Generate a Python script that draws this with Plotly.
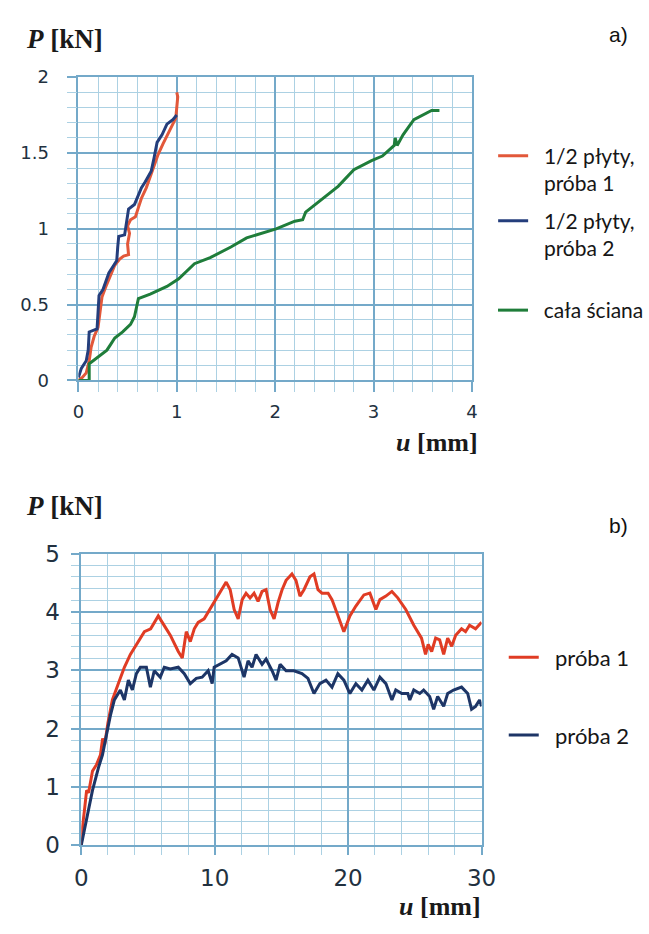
import plotly.graph_objects as go

# ---------------- data: chart a) ----------------
a_red_u = [0, 0.04, 0.08, 0.11, 0.13, 0.16, 0.2, 0.22, 0.24, 0.28, 0.33, 0.37, 0.42, 0.46, 0.51, 0.5, 0.52, 0.5, 0.53,
           0.58, 0.61, 0.64, 0.69, 0.73, 0.77, 0.81, 0.86, 0.9, 0.95, 0.99, 1.0, 1.01, 1.0]
a_red_p = [0, 0.02, 0.05, 0.13, 0.22, 0.29, 0.35, 0.45, 0.55, 0.62, 0.7, 0.76, 0.8, 0.82, 0.83, 0.9, 0.97, 1.02, 1.06,
           1.08, 1.14, 1.2, 1.27, 1.34, 1.42, 1.49, 1.56, 1.61, 1.67, 1.73, 1.8, 1.87, 1.9]

a_blue_u = [0, 0.03, 0.08, 0.1, 0.11, 0.15, 0.19, 0.2, 0.21, 0.25, 0.31, 0.36, 0.39, 0.4, 0.41, 0.47, 0.49, 0.51, 0.57,
            0.64, 0.68, 0.74, 0.77, 0.8, 0.85, 0.9, 0.96, 1.0]
a_blue_p = [0.02, 0.08, 0.13, 0.2, 0.32, 0.33, 0.34, 0.45, 0.56, 0.6, 0.71, 0.76, 0.79, 0.88, 0.95, 0.96, 1.05, 1.13, 1.16,
            1.27, 1.31, 1.38, 1.47, 1.57, 1.62, 1.69, 1.72, 1.75]

a_green_u = [0, 0.05, 0.11, 0.11, 0.15, 0.22, 0.29, 0.33, 0.37, 0.45, 0.53, 0.57, 0.6, 0.61, 0.73, 0.9, 1.02, 1.1, 1.18,
             1.34, 1.55, 1.71, 2.01, 2.2, 2.28, 2.31, 2.47, 2.64, 2.8, 2.98, 3.09, 3.21, 3.22, 3.24, 3.3, 3.41, 3.59, 3.67]
a_green_p = [0, 0.0, 0.0, 0.11, 0.13, 0.16, 0.2, 0.24, 0.28, 0.32, 0.37, 0.42, 0.5, 0.54, 0.57, 0.62, 0.67, 0.72, 0.77,
             0.81, 0.88, 0.94, 1.0, 1.05, 1.06, 1.11, 1.19, 1.28, 1.39, 1.45, 1.48, 1.55, 1.6, 1.55, 1.62, 1.72, 1.78, 1.78]

# ---------------- data: chart b) ----------------
b_red_u = [0, 0.1, 0.24, 0.4, 0.55, 0.84, 1.14, 1.44, 1.6, 1.75, 2.0, 2.33, 2.78, 3.23, 3.68, 4.28, 4.73, 5.2, 5.5, 5.77,
           6.07, 6.67, 7.27, 7.57, 7.87, 8.17, 8.47, 8.76, 9.21, 9.51, 9.96, 10.4, 10.86, 11.16, 11.46, 11.76, 12.06,
           12.35, 12.65, 12.95, 13.25, 13.55, 13.85, 14.15, 14.45, 14.75, 15.05, 15.35, 15.79, 16.09, 16.39, 16.69,
           17.14, 17.44, 17.74, 18.04, 18.5, 18.79, 19.23, 19.68, 20.13, 20.58, 21.18, 21.63, 22.08, 22.38, 22.83,
           23.28, 23.72, 24.32, 24.92, 25.5, 25.8, 26.0, 26.26, 26.56, 26.86, 27.16, 27.46, 27.76, 28.06, 28.5, 28.8,
           29.1, 29.55, 30.0]
b_red_p = [0, 0.33, 0.6, 0.94, 0.9, 1.27, 1.38, 1.55, 1.83, 1.72, 2.1, 2.49, 2.77, 3.05, 3.27, 3.49, 3.66, 3.71, 3.82, 3.93,
           3.82, 3.6, 3.32, 3.21, 3.66, 3.49, 3.71, 3.82, 3.88, 3.99, 4.16, 4.32, 4.51, 4.38, 4.04, 3.88, 4.21,
           4.32, 4.24, 4.32, 4.18, 4.35, 4.38, 4.04, 3.88, 4.16, 4.38, 4.54, 4.65, 4.54, 4.27, 4.38,
           4.6, 4.65, 4.38, 4.32, 4.32, 4.21, 3.93, 3.66, 3.93, 4.1, 4.29, 4.32, 4.04, 4.21, 4.27,
           4.35, 4.24, 4.04, 3.77, 3.55, 3.27, 3.44, 3.32, 3.55, 3.52, 3.27, 3.55, 3.41, 3.6, 3.71, 3.66,
           3.77, 3.71, 3.82]

b_blue_u = [0, 0.4, 0.84, 1.29, 1.59, 1.88, 2.18, 2.48, 2.93, 3.23, 3.53, 3.83, 4.13, 4.43, 4.88, 5.18, 5.47, 5.92, 6.22,
            6.67, 7.27, 7.72, 8.17, 8.62, 9.06, 9.51, 9.81, 9.96, 10.4, 10.86, 11.3, 11.76, 12.2, 12.5, 12.8, 13.1,
            13.55, 13.85, 14.3, 14.6, 14.9, 15.35, 15.94, 16.54, 16.99, 17.44, 17.88, 18.34, 18.79, 19.23, 19.68,
            20.13, 20.58, 21.03, 21.48, 21.93, 22.38, 22.83, 23.28, 23.57, 24.02, 24.47, 24.62, 24.92, 25.37, 25.66,
            26.11, 26.41, 26.71, 27.16, 27.46, 27.9, 28.5, 28.96, 29.25, 29.55, 29.85, 30.0]
b_blue_p = [0, 0.44, 0.94, 1.33, 1.55, 1.88, 2.22, 2.49, 2.66, 2.49, 2.83, 2.66, 2.94, 3.05, 3.05, 2.71, 2.99, 2.88, 3.05,
            3.02, 3.05, 2.94, 2.77, 2.86, 2.88, 2.99, 2.77, 3.05, 3.1, 3.16, 3.27, 3.21, 2.88, 3.16, 3.05, 3.27,
            3.1, 3.19, 2.99, 2.83, 3.1, 2.99, 2.99, 2.94, 2.86, 2.6, 2.77, 2.83, 2.71, 2.94, 2.83,
            2.6, 2.77, 2.66, 2.83, 2.66, 2.88, 2.77, 2.49, 2.66, 2.6, 2.6, 2.49, 2.66, 2.6, 2.66,
            2.55, 2.33, 2.55, 2.38, 2.6, 2.66, 2.71, 2.6, 2.33, 2.38, 2.49, 2.38]

# ---------------- tick labels / legend names ----------------
a_xticks = [0, 1, 2, 3, 4]
a_xtick_text = ["0", "1", "2", "3", "4"]
a_yticks = [0, 0.5, 1, 1.5, 2]
a_ytick_text = ["0", "0.5", "1", "1.5", "2"]
b_xticks = [0, 10, 20, 30]
b_xtick_text = ["0", "10", "20", "30"]
b_yticks = [0, 1, 2, 3, 4, 5]
b_ytick_text = ["0", "1", "2", "3", "4", "5"]

NB = "\u00a0\u00a0"
a_names = [NB + "1/2 płyty,<br>" + NB + "próba 1", NB + "1/2 płyty,<br>" + NB + "próba 2", NB + "cała ściana"]
b_names = [NB + "próba 1", NB + "próba 2"]

W, H = 649, 934
MAJOR = "#74a9c9"
MINOR = "#acd1e3"
TICKFONT = "#223140"


def px(x):
    return x / W


def py(y):
    return 1 - y / H


fig = go.Figure()

fig.add_trace(go.Scatter(x=a_red_u, y=a_red_p, mode="lines", name=a_names[0], line=dict(color="#e2583a", width=3),
                         xaxis="x", yaxis="y", legend="legend"))
fig.add_trace(go.Scatter(x=a_blue_u, y=a_blue_p, mode="lines", name=a_names[1], line=dict(color="#243e7c", width=3),
                         xaxis="x", yaxis="y", legend="legend2"))
fig.add_trace(go.Scatter(x=a_green_u, y=a_green_p, mode="lines", name=a_names[2], line=dict(color="#1f7d3a", width=3),
                         xaxis="x", yaxis="y", legend="legend3"))
fig.add_trace(go.Scatter(x=b_red_u, y=b_red_p, mode="lines", name=b_names[0], line=dict(color="#e03c24", width=3),
                         xaxis="x2", yaxis="y2", legend="legend4"))
fig.add_trace(go.Scatter(x=b_blue_u, y=b_blue_p, mode="lines", name=b_names[1], line=dict(color="#1d3566", width=3),
                         xaxis="x2", yaxis="y2", legend="legend5"))


def axis(rng, dom, anchor, vals, text, minor_dtick, fsize, standoff, ticklen):
    return dict(range=rng, domain=dom, anchor=anchor, tickmode="array", tickvals=vals, ticktext=text,
                showgrid=True, gridcolor=MAJOR, gridwidth=1.6, zeroline=False,
                showline=True, linecolor=MAJOR, linewidth=1.6, mirror=True,
                ticks="outside", ticklen=ticklen, tickcolor=MAJOR, tickwidth=1.6,
                minor=dict(dtick=minor_dtick, showgrid=True, gridcolor=MINOR, gridwidth=1,
                           ticks="outside", ticklen=ticklen, tickcolor=MINOR, tickwidth=1),
                tickfont=dict(family="DejaVu Sans", size=fsize, color=TICKFONT),
                ticklabelstandoff=standoff, fixedrange=True)


leg_common = dict(xanchor="left", yanchor="middle", bgcolor="rgba(0,0,0,0)", valign="top",
                  borderwidth=0, itemclick=False, itemdoubleclick=False)
top_font = dict(family="Lato", size=21, color="#161616")
bot_font = dict(family="Lato", size=22, color="#161616")

fig.update_layout(
    width=W, height=H, margin=dict(l=0, r=0, t=0, b=0),
    paper_bgcolor="white", plot_bgcolor="white", showlegend=True,
    xaxis=axis([0, 4], [px(74), px(482)], "y", a_xticks, a_xtick_text, 0.2, 18, 4, 10),
    yaxis=axis([0, 2], [py(378), py(66)], "x", a_yticks, a_ytick_text, 0.1, 18, 14, 10),
    xaxis2=axis([0, 30], [px(77), px(492)], "y2", b_xticks, b_xtick_text, 2, 23, 3, 8),
    yaxis2=axis([0, 5], [py(856), py(556)], "x2", b_yticks, b_ytick_text, 0.2, 23, 7, 8),
    legend=dict(x=px(504), y=py(161), font=top_font, **leg_common),
    legend2=dict(x=px(504), y=py(228), font=top_font, **leg_common),
    legend3=dict(x=px(504), y=py(306), font=top_font, **leg_common),
    legend4=dict(x=px(515), y=py(663), font=bot_font, **leg_common),
    legend5=dict(x=px(515), y=py(743), font=bot_font, **leg_common),
)

serif = dict(family="Liberation Serif", size=27, color="#1a1a1a")
serif_u = dict(family="Liberation Serif", size=26, color="#1a1a1a")
annots = [
    dict(text="<b><i>P</i> [kN]</b>", x=px(18), y=py(27), xanchor="left", yanchor="middle", font=serif),
    dict(text="<b><i>u</i> [mm]</b>", x=px(490), y=py(442), xanchor="right", yanchor="middle", font=serif_u),
    dict(text="<b><i>P</i> [kN]</b>", x=px(18), y=py(507), xanchor="left", yanchor="middle", font=serif),
    dict(text="<b><i>u</i> [mm]</b>", x=px(494), y=py(919), xanchor="right", yanchor="middle", font=serif_u),
    dict(text="a)", x=px(646), y=py(22), xanchor="right", yanchor="middle",
         font=dict(family="Liberation Sans", size=21, color="#111")),
    dict(text="b)", x=px(646), y=py(527), xanchor="right", yanchor="middle",
         font=dict(family="Liberation Sans", size=21, color="#111")),
]
for a in annots:
    fig.add_annotation(xref="paper", yref="paper", showarrow=False, **a)

fig.write_html("out.html", config={"displayModeBar": False})
